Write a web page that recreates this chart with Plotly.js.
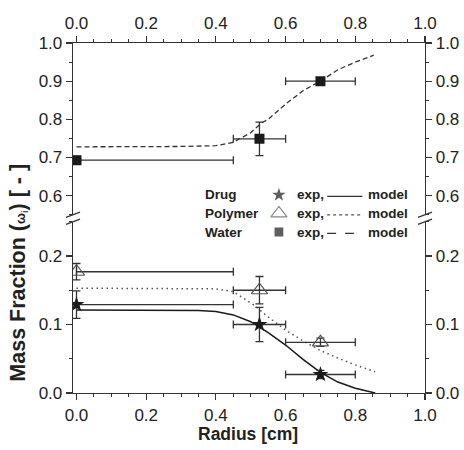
<!DOCTYPE html>
<html>
<head>
<meta charset="utf-8">
<script src="https://cdn.plot.ly/plotly-3.0.1.min.js"></script>
<style>html,body{margin:0;padding:0;background:#fff;}#chart{width:464px;height:450px;}</style>
</head>
<body>
<div id="chart"></div>
<script>
// ---- experimental data ----
const radiusExp = [0, 0.525, 0.7];
const radiusErrPlus = [0.45, 0.075, 0.1];
const radiusErrMinus = [0, 0.075, 0.1];
const drugExp = [0.129, 0.100, 0.027];
const drugErr = [0.02, 0.025, 0.006];
const polymerExp = [0.177, 0.150, 0.074];
const polymerErr = [0.012, 0.02, 0.006];
const waterExp = [0.693, 0.749, 0.900];
const waterErr = [0.01, 0.044, 0.005];

// ---- model curves ----
const drugModelR = [0, 0.1, 0.2, 0.3, 0.35, 0.4, 0.45, 0.5, 0.55, 0.6, 0.65, 0.7, 0.75, 0.8, 0.857];
const drugModel = [0.121, 0.121, 0.121, 0.121, 0.1205, 0.119, 0.114, 0.104, 0.088, 0.070, 0.049, 0.030, 0.016, 0.007, 0.0];
const polymerModelR = [0, 0.1, 0.2, 0.3, 0.4, 0.45, 0.48, 0.51, 0.55, 0.6, 0.65, 0.7, 0.75, 0.8, 0.857];
const polymerModel = [0.153, 0.153, 0.153, 0.153, 0.152, 0.148, 0.138, 0.128, 0.111, 0.092, 0.076, 0.062, 0.051, 0.041, 0.031];
const waterModelR = [0, 0.1, 0.2, 0.3, 0.4, 0.45, 0.5, 0.53, 0.55, 0.6, 0.65, 0.7, 0.75, 0.8, 0.853];
const waterModel = [0.728, 0.728, 0.728, 0.729, 0.731, 0.740, 0.765, 0.790, 0.800, 0.840, 0.875, 0.900, 0.930, 0.950, 0.968];

// ---- axes ----
const xRange = [-0.01, 1.0];
const upperRange = [0.55, 1.0];
const lowerRange = [0, 0.25];
const xTicks = [0, 0.2, 0.4, 0.6, 0.8, 1.0];
const xTickText = ['0.0', '0.2', '0.4', '0.6', '0.8', '1.0'];
const upperTicks = [0.6, 0.7, 0.8, 0.9, 1.0];
const upperTickText = ['0.6', '0.7', '0.8', '0.9', '1.0'];
const lowerTicks = [0.0, 0.1, 0.2];
const lowerTickText = ['0.0', '0.1', '0.2'];

// legend rows
const legendNames = ['Drug', 'Polymer', 'Water'];
const legendSymbols = ['star', 'triangle-up-open', 'square'];

const ink = '#1a1a1a';
const errCol = '#333333';
const font = 'Liberation Sans, Arial, sans-serif';

function errX() {
  return {type: 'data', symmetric: false, array: radiusErrPlus, arrayminus: radiusErrMinus,
          color: errCol, thickness: 1.3, width: 4};
}
function errY(arr) {
  return {type: 'data', array: arr, color: errCol, thickness: 1.3, width: 4};
}

const traces = [
  // lower panel models
  {x: drugModelR, y: drugModel, xaxis: 'x', yaxis: 'y', mode: 'lines',
   line: {color: ink, width: 1.5, dash: 'solid'}, hoverinfo: 'skip'},
  {x: polymerModelR, y: polymerModel, xaxis: 'x', yaxis: 'y', mode: 'lines',
   line: {color: '#555', width: 1.5, dash: '1.5px,3.5px'}, hoverinfo: 'skip'},
  // lower panel exp
  {x: radiusExp, y: polymerExp, xaxis: 'x', yaxis: 'y', mode: 'markers',
   marker: {symbol: 'triangle-up-open', size: 14, color: '#555', line: {width: 1.2}},
   error_x: errX(), error_y: errY(polymerErr)},
  {x: radiusExp, y: drugExp, xaxis: 'x', yaxis: 'y', mode: 'markers',
   marker: {symbol: 'star', size: 12, color: ink},
   error_x: errX(), error_y: errY(drugErr)},
  // upper panel
  {x: waterModelR, y: waterModel, xaxis: 'x2', yaxis: 'y2', mode: 'lines',
   line: {color: '#333', width: 1.3, dash: '5px,3px'}, hoverinfo: 'skip'},
  {x: radiusExp, y: waterExp, xaxis: 'x2', yaxis: 'y2', mode: 'markers',
   marker: {symbol: 'square', size: 10, color: ink},
   error_x: errX(), error_y: errY(waterErr)},
  // right-side mirrored axes holders
  {x: [], y: [], xaxis: 'x', yaxis: 'y3', hoverinfo: 'skip'},
  {x: [], y: [], xaxis: 'x2', yaxis: 'y4', hoverinfo: 'skip'},
  // legend symbols on an overlay paper-like axes
  {x: [0.585, 0.585, 0.585], y: [0.566, 0.513, 0.46], xaxis: 'x5', yaxis: 'y5', mode: 'markers',
   marker: {symbol: legendSymbols, size: [13, 14, 10], color: [ink, '#555', ink], line: {width: 1.2}},
   hoverinfo: 'skip'}
];

const tickFont = {family: font, size: 17, color: '#222'};
const minorTicks = {dtick: 0.05, tick0: 0, ticks: 'outside', ticklen: 3, tickwidth: 1, tickcolor: '#333'};
const baseAxis = {showline: true, linecolor: '#333', linewidth: 1.3, ticks: 'outside',
                  ticklen: 6, tickwidth: 1.2, tickcolor: '#333', showgrid: false, zeroline: false,
                  tickfont: tickFont, fixedrange: true};
const lowerDom = [0, 0.4894];
const upperDom = [0.5091, 1];

const layout = {
  width: 464, height: 450,
  margin: {l: 73, r: 39, t: 43, b: 57},
  paper_bgcolor: '#fff', plot_bgcolor: 'rgba(0,0,0,0)',
  showlegend: false,
  font: {family: font, color: '#222'},
  xaxis: Object.assign({}, baseAxis, {range: xRange, domain: [0, 1], anchor: 'y', side: 'bottom',
          tickvals: xTicks, ticktext: xTickText, minor: minorTicks}),
  xaxis2: Object.assign({}, baseAxis, {range: xRange, domain: [0, 1], anchor: 'y2', side: 'top',
          tickvals: xTicks, ticktext: xTickText, minor: minorTicks}),
  yaxis: Object.assign({}, baseAxis, {range: lowerRange, domain: lowerDom, anchor: 'x', side: 'left',
          tickvals: lowerTicks, ticktext: lowerTickText, minor: minorTicks}),
  yaxis2: Object.assign({}, baseAxis, {range: upperRange, domain: upperDom, anchor: 'x2', side: 'left',
          tickvals: upperTicks, ticktext: upperTickText, minor: minorTicks}),
  yaxis3: Object.assign({}, baseAxis, {range: lowerRange, domain: lowerDom, anchor: 'x', side: 'right',
          overlaying: 'y', tickvals: lowerTicks, ticktext: lowerTickText, minor: minorTicks}),
  yaxis4: Object.assign({}, baseAxis, {range: upperRange, domain: upperDom, anchor: 'x2', side: 'right',
          overlaying: 'y2', tickvals: upperTicks, ticktext: upperTickText, minor: minorTicks}),
  xaxis5: {domain: [0, 1], range: [0, 1], visible: false, fixedrange: true, anchor: 'y5', overlaying: 'x'},
  yaxis5: {domain: [0, 1], range: [0, 1], visible: false, fixedrange: true, anchor: 'x5'},
  annotations: [],
  shapes: []
};

// axis titles
layout.annotations.push({xref: 'paper', yref: 'paper', x: 0.497, y: -0.116, text: '<b>Radius [cm]</b>',
  showarrow: false, font: {family: font, size: 17.5, color: '#222'}, xanchor: 'center', yanchor: 'middle'});
layout.annotations.push({xref: 'paper', yref: 'paper', x: -0.155, y: 0.345, textangle: -90,
  text: '<b>Mass Fraction (<span style="font-size:13px">ω<sub>i</sub></span>) [ - ]</b>',
  showarrow: false, font: {family: font, size: 21.5, color: '#222'}, xanchor: 'center', yanchor: 'middle'});

// legend text and lines
const rowY = [0.566, 0.513, 0.46];
const legFont = {family: font, size: 13.5, color: '#222'};
legendNames.forEach((nm, i) => {
  layout.annotations.push({xref: 'paper', yref: 'paper', x: 0.369, y: rowY[i], text: '<b>' + nm + '</b>',
    showarrow: false, xanchor: 'left', yanchor: 'middle', font: legFont});
  layout.annotations.push({xref: 'paper', yref: 'paper', x: 0.631, y: rowY[i], text: '<b>exp,</b>',
    showarrow: false, xanchor: 'left', yanchor: 'middle', font: legFont});
  layout.annotations.push({xref: 'paper', yref: 'paper', x: 0.832, y: rowY[i], text: '<b>model</b>',
    showarrow: false, xanchor: 'left', yanchor: 'middle', font: legFont});
  layout.shapes.push({type: 'line', xref: 'paper', yref: 'paper', x0: 0.722, x1: 0.822,
    y0: rowY[i] - 0.004, y1: rowY[i] - 0.004,
    line: {color: i === 1 ? '#555' : '#333', width: 1.3, dash: i === 1 ? 'dot' : (i === 2 ? 'dash' : 'solid')}});
});

// break marks on left and right axes (pixel offsets converted to paper)
const pw = 352, ph = 350;
[0, 1].forEach(xp => {
  [upperDom[0], lowerDom[1]].forEach(yp => {
    layout.shapes.push({type: 'line', xref: 'paper', yref: 'paper',
      x0: xp - 7 / pw, x1: xp + 7 / pw, y0: yp - 2.6 / ph, y1: yp + 2.6 / ph,
      line: {color: '#333', width: 1.3}});
  });
});

Plotly.newPlot('chart', traces, layout, {displayModeBar: false, staticPlot: true});
</script>
</body>
</html>
